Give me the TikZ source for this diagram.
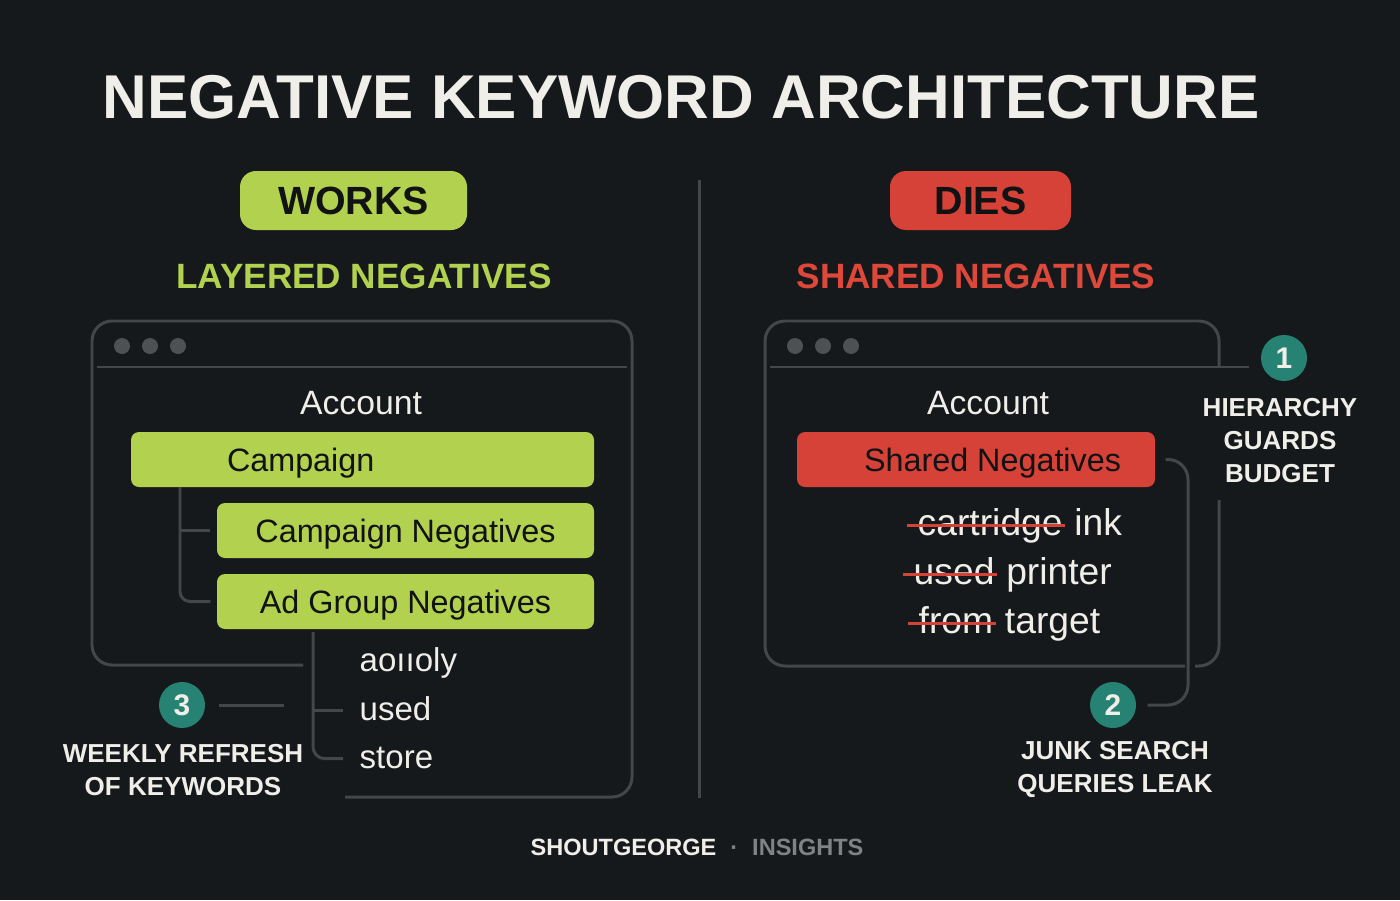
\documentclass[tikz,border=0pt]{standalone}
\usepackage{fontspec}
\setmainfont{Liberation Sans}
\usetikzlibrary{positioning}

\definecolor{bgc}{RGB}{22,25,27}
\definecolor{limec}{RGB}{178,209,78}
\definecolor{redc}{RGB}{214,66,55}
\definecolor{redtxt}{RGB}{222,72,58}
\definecolor{tealc}{RGB}{38,130,114}
\definecolor{linec}{RGB}{68,71,74}
\definecolor{dotc}{RGB}{78,81,84}
\definecolor{inkc}{RGB}{16,18,20}
\definecolor{paperc}{RGB}{240,238,233}
\definecolor{greyc}{RGB}{128,130,132}

\tikzset{
	badge/.style={rounded corners=1.6mm, minimum height=5.9mm, inner sep=0pt, text=inkc, font=\bfseries\fontsize{11.2}{13}\selectfont},
	head/.style={inner sep=0pt, font=\bfseries\fontsize{10}{12}\selectfont},
	frame/.style={draw=linec, line width=0.85pt},
	tree/.style={draw=linec, line width=0.85pt},
	tier/.style={rounded corners=0.8mm, minimum height=5.5mm, inner sep=0pt},
	tiertext/.style={inner sep=0pt, yshift=-0.35mm, text=inkc, font=\fontsize{9.2}{11}\selectfont},
	plain/.style={inner sep=0pt, text=paperc, font=\fontsize{9.6}{11}\selectfont},
	kw/.style={inner sep=0pt, text=paperc, font=\fontsize{9.4}{11}\selectfont},
	kwr/.style={inner sep=0pt, text=paperc, font=\fontsize{10.6}{12}\selectfont},
	strike/.style={draw=redc, line width=0.9pt},
	num/.style={circle, fill=tealc, minimum size=4.6mm, inner sep=0pt, text=paperc, font=\bfseries\fontsize{8.5}{10}\selectfont},
	note/.style={align=center, inner sep=0pt, text=paperc, font=\bfseries\fontsize{7.4}{9.4}\selectfont},
}

\begin{document}
\begin{tikzpicture}[x=0.1mm, y=-0.1mm]
		\fill[bgc] (0,0) rectangle (1400,900);
		
		\node[inner sep=0pt, text=paperc, font=\bfseries\fontsize{17.6}{20}\selectfont] (title) at (681,97) {NEGATIVE KEYWORD ARCHITECTURE};
		\draw[frame] (699,180) -- (699,798);
		
		% left side: works
		\node[badge, fill=limec, minimum width=22.7mm] (works) at (353.5,200.5) {WORKS};
		\node[head, text=limec] (layered) at (364,276) {LAYERED NEGATIVES};
		
		\draw[frame, rounded corners=2mm] (303,665) -| (92,321) -| (632,797) -- (345,797);
		\draw[frame] (97,367) -- (627,367);
		\foreach \x in {122,150,178}{
			\fill[dotc] (\x,346) circle (0.8mm);
		}
		\node[plain] (accL) at (361,403) {Account};
		
		\node[tier, fill=limec, minimum width=46.3mm] (camp) at (362.5,459.5) {};
		\node[tiertext, right=9.6mm of camp.west] (camptxt) {Campaign};
		\node[tier, fill=limec, minimum width=37.7mm] (cneg) at (405.5,530.5) {};
		\node[tiertext] (cnegtxt) at (cneg) {Campaign Negatives};
		\node[tier, fill=limec, minimum width=37.7mm] (adg) at (405.5,601.5) {};
		\node[tiertext] (adgtxt) at (adg) {Ad Group Negatives};
		
		\coordinate (trunk) at (180,487);
		\draw[tree] (trunk) |- ([xshift=-0.6mm]cneg.west);
		\draw[tree, rounded corners=1mm] (trunk) |- ([xshift=-0.6mm]adg.west);
		
		\node[kw, anchor=base west] (kw1) at (359,671) {aoııoly};
		\node[kw, anchor=base west] (kw2) at (359,720) {used};
		\node[kw, anchor=base west] (kw3) at (359,768) {store};
		\coordinate (kwtop) at (313,632);
		\draw[tree, rounded corners=1.2mm] (kwtop) |- ([xshift=-1.6mm]kw3.mid west);
		\draw[tree] (kwtop |- kw2.mid west) -- ([xshift=-1.6mm]kw2.mid west);
		
		\node[num] (n3) at (182,705) {3};
		\coordinate (n3end) at (284,705);
		\draw[tree] ([xshift=1.3mm]n3.east) -- (n3end);
		\node[note] (lbl3) at (183,770) {WEEKLY REFRESH\\OF KEYWORDS};
		
		% right side: dies
		\node[badge, fill=redc, minimum width=18.1mm] (dies) at (980.5,200.5) {DIES};
		\node[head, text=redtxt] (shared) at (976,276) {SHARED NEGATIVES};
		
		\draw[frame, rounded corners=2mm] (1219,367) |- (765,321) |- (1185,666);
		\draw[frame, rounded corners=2mm] (1219,500) |- (1195,666);
		\coordinate (sepend) at (1249,367);
		\draw[frame] (770,367) -- (sepend);
		\foreach \x in {795,823,851}{
			\fill[dotc] (\x,346) circle (0.8mm);
		}
		\node[plain] (accR) at (988,403) {Account};
		
		\node[tier, fill=redc, minimum width=35.8mm] (sneg) at (976,459.5) {};
		\node[tiertext, right=6.7mm of sneg.west] (snegtxt) {Shared Negatives};
		
		\node[kwr, anchor=base west] (q1) at (917,535) {cartridge};
		\node[kwr, anchor=base west] (q1b) at (q1.base east) {\ ink};
		\node[kwr, anchor=base west] (q2) at (913,584) {used};
		\node[kwr, anchor=base west] (q2b) at (q2.base east) {\ printer};
		\node[kwr, anchor=base west] (q3) at (918,633) {from};
		\node[kwr, anchor=base west] (q3b) at (q3.base east) {\ target};
		\foreach \q in {q1,q2,q3}{
			\draw[strike] ([xshift=-1mm]\q.mid west) -- ([xshift=0.2mm]\q.mid east);
		}
		
		\node[num] (n1) at (1284,358) {1};
		\node[note] (lbl1) at (1280,441) {HIERARCHY\\GUARDS\\BUDGET};
		
		\node[num] (n2) at (1113,705) {2};
		\coordinate (jog) at (1188,705);
		\draw[tree, rounded corners=2mm] ([xshift=1mm]sneg.east) -| (jog) -- ([xshift=1.1mm]n2.east);
		\node[note] (lbl2) at (1115,769) {JUNK SEARCH\\QUERIES LEAK};
		
		\node[inner sep=0pt, font=\bfseries\fontsize{6.7}{8}\selectfont] (foot) at (697,847) {\textcolor{paperc}{SHOUTGEORGE}\hspace{1.4mm}\textcolor{greyc}{·\hspace{1.4mm}INSIGHTS}};
\end{tikzpicture}
\end{document}
